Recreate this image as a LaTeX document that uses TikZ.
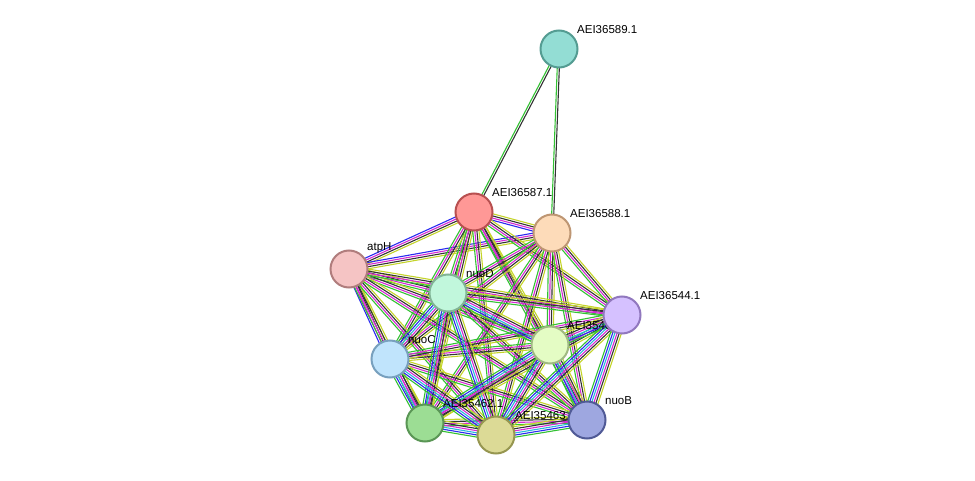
\documentclass[tikz,border=0pt]{standalone}
\usepackage{fontspec}
\setmainfont{Liberation Sans}
\usetikzlibrary{calc,backgrounds}
\definecolor{eGreen}{HTML}{33C133}
\definecolor{eBlue}{HTML}{2A2AF0}
\definecolor{eMag}{HTML}{D42AD4}
\definecolor{eBlack}{HTML}{333333}
\definecolor{eYel}{HTML}{C4D42A}
\definecolor{eCyan}{HTML}{2AB8DA}
\definecolor{eRed}{HTML}{F02A2A}
% draws one STRING-like edge as parallel coloured strands
\newcommand\strEdge[3]{%
  \foreach \c [count=\i] in {#3} {\xdef\nstr{\i}}
  \foreach \c [count=\i] in {#3} {
    \pgfmathsetmacro\off{(\i-(\nstr+1)/2)*2.1}
    \draw[\c,line width=1.1pt] ($(#1)!\off pt!90:(#2)$) -- ($(#2)!\off pt!-90:(#1)$);
  }}
\begin{document}
\begin{tikzpicture}[x=1pt,y=-1pt,
prot/.style={draw,circle,minimum size=37pt,line width=2pt,inner sep=0pt},
plab/.style={anchor=south west,inner sep=0pt,font=\fontsize{11.5}{12}\selectfont}]
\useasboundingbox (0,0) rectangle (975,481);

\node[prot,fill={rgb,255:red,147;green,221;blue,212},draw={rgb,255:red,84;green,156;blue,146}] (a89) at (559,49) {};
\node[plab] at (577,34) {AEI36589.1};
\node[prot,fill={rgb,255:red,255;green,152;blue,150},draw={rgb,255:red,184;green,80;blue,80}] (a87) at (474,212) {};
\node[plab] at (492,197) {AEI36587.1};
\node[prot,fill={rgb,255:red,253;green,219;blue,185},draw={rgb,255:red,190;green,150;blue,115}] (a88) at (552,233) {};
\node[plab] at (570,218) {AEI36588.1};
\node[prot,fill={rgb,255:red,245;green,196;blue,196},draw={rgb,255:red,176;green,125;blue,125}] (atpH) at (349,269) {};
\node[plab] at (367,253) {atpH};
\node[prot,fill={rgb,255:red,193;green,247;blue,220},draw={rgb,255:red,130;green,180;blue,150}] (nuoD) at (448,293) {};
\node[plab] at (466,278) {nuoD};
\node[prot,fill={rgb,255:red,228;green,252;blue,196},draw={rgb,255:red,160;green,185;blue,130}] (a64) at (550,345) {};
\node[plab] at (567,330) {AEI35464.1};
\node[prot,fill={rgb,255:red,213;green,193;blue,255},draw={rgb,255:red,145;green,120;blue,190}] (a44) at (622,315) {};
\node[plab] at (640,300) {AEI36544.1};
\node[prot,fill={rgb,255:red,192;green,228;blue,252},draw={rgb,255:red,120;green,160;blue,190}] (nuoC) at (390,359) {};
\node[plab] at (408,344) {nuoC};
\node[prot,fill={rgb,255:red,156;green,221;blue,148},draw={rgb,255:red,90;green,150;blue,85}] (a62) at (425,423) {};
\node[plab] at (443,408) {AEI35462.1};
\node[plab] at (515,420) {AEI35463.1};
\node[prot,fill={rgb,255:red,220;green,218;blue,150},draw={rgb,255:red,150;green,150;blue,80}] (a63) at (496,435) {};
\node[prot,fill={rgb,255:red,158;green,167;blue,224},draw={rgb,255:red,80;green,90;blue,150}] (nuoB) at (587,420) {};
\node[plab] at (605,405) {nuoB};

\begin{pgfonlayer}{background}
\strEdge{a89}{a87}{eGreen,eBlack}
\strEdge{a89}{a88}{eGreen,eBlack}
\foreach \p/\q in {a87/a88,a87/atpH,a88/atpH,atpH/nuoC}
  \strEdge{\p}{\q}{eBlue,eMag,eBlack,eYel};
\foreach \p/\q in {a87/nuoD,a87/a64,a87/a44,a87/nuoC,a87/a62,a87/a63,a87/nuoB,
  a88/nuoD,a88/a64,a88/a44,a88/nuoC,a88/a62,a88/a63,a88/nuoB,
  atpH/nuoD,atpH/a64,atpH/a44,atpH/a62,atpH/a63,atpH/nuoB,
  nuoD/a44,nuoD/nuoB,a64/nuoC,a44/nuoC,a44/a62,nuoC/nuoB,a62/nuoB}
  \strEdge{\p}{\q}{eGreen,eMag,eBlack,eYel};
\foreach \p/\q in {nuoD/a64,nuoD/nuoC,nuoD/a62,nuoD/a63,a64/a44,a64/a62,a64/a63,
  a64/nuoB,a44/a63,a44/nuoB,nuoC/a62,nuoC/a63,a62/a63,a63/nuoB}
  \strEdge{\p}{\q}{eGreen,eBlue,eCyan,eMag,eBlack,eYel};
\end{pgfonlayer}
\end{tikzpicture}
\end{document}
